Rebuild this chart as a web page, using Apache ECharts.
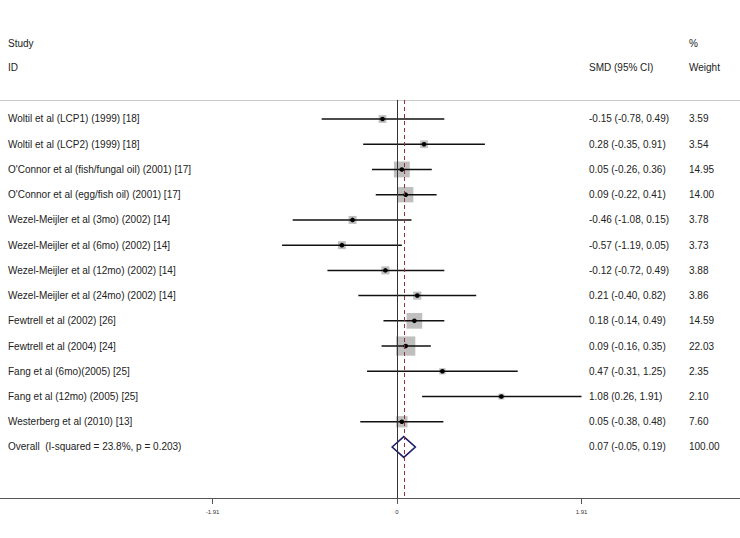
<!DOCTYPE html>
<html><head><meta charset="utf-8">
<script src="https://cdn.jsdelivr.net/npm/echarts@6/dist/echarts.min.js"></script>
<style>html,body{margin:0;padding:0;background:#fff}#c{width:740px;height:538px}</style>
</head><body><div id="c"></div>
<script>
const studies = [
  'Woltil et al (LCP1) (1999) [18]',
  'Woltil et al (LCP2) (1999) [18]',
  "O'Connor et al (fish/fungal oil) (2001) [17]",
  "O'Connor et al (egg/fish oil) (2001) [17]",
  'Wezel-Meijler et al (3mo) (2002) [14]',
  'Wezel-Meijler et al (6mo) (2002) [14]',
  'Wezel-Meijler et al (12mo) (2002) [14]',
  'Wezel-Meijler et al (24mo) (2002) [14]',
  'Fewtrell et al (2002) [26]',
  'Fewtrell et al (2004) [24]',
  'Fang et al (6mo)(2005) [25]',
  'Fang et al (12mo) (2005) [25]',
  'Westerberg et al (2010) [13]'
];
const smd = [-0.15, 0.28, 0.05, 0.09, -0.46, -0.57, -0.12, 0.21, 0.18, 0.09, 0.47, 1.08, 0.05];
const lower = [-0.78, -0.35, -0.26, -0.22, -1.08, -1.19, -0.72, -0.40, -0.14, -0.16, -0.31, 0.26, -0.38];
const upper = [0.49, 0.91, 0.36, 0.41, 0.15, 0.05, 0.49, 0.82, 0.49, 0.35, 1.25, 1.91, 0.48];
const weights = [3.59, 3.54, 14.95, 14.00, 3.78, 3.73, 3.88, 3.86, 14.59, 22.03, 2.35, 2.10, 7.60];
const overallLabel = 'Overall  (I-squared = 23.8%, p = 0.203)';
const overallEst = 0.07;
const overallLower = -0.05;
const overallUpper = 0.19;
const overallWeight = 100.00;
const tickValues = [-1.91, 0, 1.91];

const FONT = '10px "Liberation Sans", Arial, sans-serif';
const TXT = '#222';
const fmt = v => v.toFixed(2);

const allLabels = studies.concat([overallLabel]);
const allSmdText = studies.map((s, i) => `${fmt(smd[i])} (${fmt(lower[i])}, ${fmt(upper[i])})`)
  .concat([`${fmt(overallEst)} (${fmt(overallLower)}, ${fmt(overallUpper)})`]);
const allWeightText = weights.map(fmt).concat([fmt(overallWeight)]);

const chart = echarts.init(document.getElementById('c'), null, {renderer: 'svg'});

const option = {
  animation: false,
  backgroundColor: '#fff',
  grid: {left: 0, right: 0, top: 100, bottom: 40, containLabel: false},
  xAxis: [{
    type: 'value', min: -4.11, max: 3.551, position: 'bottom',
    splitLine: {show: false},
    axisLine: {show: true, onZero: false, lineStyle: {color: '#555', width: 1}},
    axisTick: {show: true, customValues: tickValues, length: 6, lineStyle: {color: '#555'}},
    axisLabel: {show: true, customValues: tickValues, fontSize: 6, color: '#333', margin: 11,
      fontFamily: 'Liberation Sans',
      formatter: v => (v === 0 ? '0' : fmt(v))}
  }, {
    type: 'value', min: -4.11, max: 3.551, position: 'top',
    splitLine: {show: false},
    axisLine: {show: true, onZero: false, lineStyle: {color: '#c8c8c8', width: 1}},
    axisTick: {show: false}, axisLabel: {show: false}
  }],
  yAxis: {type: 'value', inverse: true, min: -0.753, max: 15.022, show: false},
  graphic: [
    {type: 'text', left: 8, top: 38, style: {text: 'Study', font: FONT, fill: TXT}},
    {type: 'text', left: 8, top: 62, style: {text: 'ID', font: FONT, fill: TXT}},
    {type: 'text', left: 689, top: 38, style: {text: '%', font: FONT, fill: TXT}},
    {type: 'text', left: 589, top: 62, style: {text: 'SMD (95% CI)', font: FONT, fill: TXT}},
    {type: 'text', left: 689, top: 62, style: {text: 'Weight', font: FONT, fill: TXT}}
  ],
  series: [
    {
      type: 'line', data: [], z: 1, silent: true,
      markLine: {
        silent: true, symbol: 'none', label: {show: false}, animation: false,
        data: [
          {xAxis: 0, lineStyle: {color: '#333', width: 1, type: 'solid'}},
          {xAxis: overallEst, lineStyle: {color: '#9e2a3a', width: 1, type: [4, 3]}}
        ]
      }
    },
    {
      type: 'custom', z: 3, silent: true,
      data: studies.map((s, i) => [smd[i], i, lower[i], upper[i], weights[i]]),
      encode: {x: 0, y: 1},
      renderItem: (params, api) => {
        const x = api.value(0), row = api.value(1), lo = api.value(2), hi = api.value(3), w = api.value(4);
        const c = api.coord([x, row]);
        const pl = api.coord([lo, row]);
        const ph = api.coord([hi, row]);
        const s = 4.1 * Math.sqrt(w);
        return {
          type: 'group', children: [
            {type: 'rect', shape: {x: c[0] - s / 2, y: c[1] - s / 2, width: s, height: s}, style: {fill: '#bfbfbf'}},
            {type: 'line', shape: {x1: pl[0], y1: pl[1], x2: ph[0], y2: ph[1]}, style: {stroke: '#111', lineWidth: 1.5}},
            {type: 'circle', shape: {cx: c[0], cy: c[1], r: 2.3}, style: {fill: '#000'}}
          ]
        };
      }
    },
    {
      type: 'custom', z: 3, silent: true,
      data: [[overallEst, studies.length, overallLower, overallUpper]],
      encode: {x: 0, y: 1},
      renderItem: (params, api) => {
        const x = api.value(0), row = api.value(1), lo = api.value(2), hi = api.value(3);
        const pL = api.coord([lo, row]);
        const pT = api.coord([x, row - 0.41]);
        const pR = api.coord([hi, row]);
        const pB = api.coord([x, row + 0.41]);
        return {
          type: 'polygon',
          shape: {points: [pL, pT, pR, pB]},
          style: {fill: 'none', stroke: '#1c1c6a', lineWidth: 1.6}
        };
      }
    },
    {
      type: 'custom', z: 4, silent: true,
      data: allLabels.map((s, i) => [0, i]),
      encode: {x: 0, y: 1},
      clip: false,
      renderItem: (params, api) => {
        const i = params.dataIndex;
        const y = api.coord([0, api.value(1)])[1];
        return {
          type: 'group', children: [
            {type: 'text', x: 8, y: y, style: {text: allLabels[i], font: FONT, fill: TXT, verticalAlign: 'middle', align: 'left'}},
            {type: 'text', x: 589, y: y, style: {text: allSmdText[i], font: FONT, fill: TXT, verticalAlign: 'middle', align: 'left'}},
            {type: 'text', x: 689, y: y, style: {text: allWeightText[i], font: FONT, fill: TXT, verticalAlign: 'middle', align: 'left'}}
          ]
        };
      }
    }
  ]
};
chart.setOption(option);
</script>
</body></html>
